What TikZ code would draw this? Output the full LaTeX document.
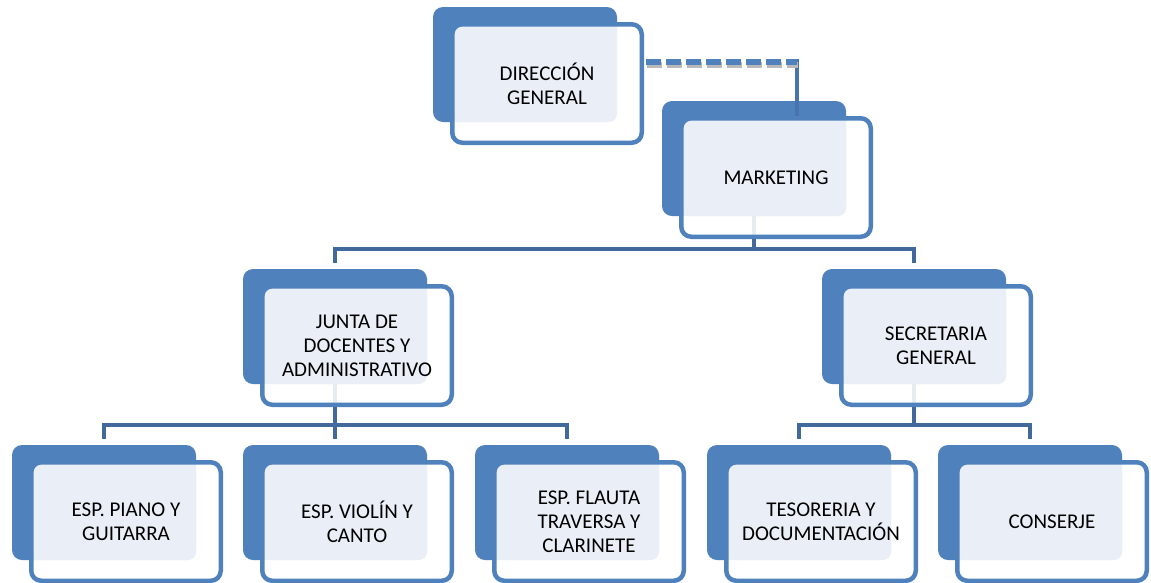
\documentclass[tikz,border=0pt]{standalone}
\usepackage{fontspec}
\setmainfont{Carlito}
\usetikzlibrary{calc}
\definecolor{boxblue}{HTML}{4F81BD}
\definecolor{lightfill}{HTML}{EAEFF7}
\definecolor{connblue}{HTML}{41699B}
\pgfdeclarelayer{backlayer}
\pgfdeclarelayer{connlayer}
\pgfsetlayers{backlayer,connlayer,main}
\tikzset{
  backbox/.style={fill=boxblue, rounded corners=10pt, minimum width=184pt, minimum height=115pt, inner sep=0pt, draw=none},
  frontbox/.style={draw=boxblue, line width=4.5pt, rounded corners=10pt, minimum width=189.5pt, minimum height=118.5pt, inner sep=0pt, align=center, font=\fontsize{21}{24}\selectfont, text=black},
  conn/.style={draw=connblue, line width=4.5pt, line join=miter},
  dashline/.style={draw=boxblue, line width=6pt, dash pattern=on 15pt off 5pt},
  dashshadow/.style={draw=gray!55, line width=6pt, dash pattern=on 15pt off 5pt},
  linkline/.style={draw=boxblue!90!black, line width=4pt}
}
\newcommand\orgbox[4]{%
  \begin{pgfonlayer}{backlayer}
    \node[backbox] (#1-b) at ({#2+92},{#3+57.5}) {};
  \end{pgfonlayer}
  \fill[white, fill opacity=0.88, rounded corners=8pt] ({#2+19},{#3+17}) rectangle ({#2+209},{#3+136});
  \fill[lightfill, rounded corners=8pt] ({#2+21},{#3+19}) rectangle ({#2+184},{#3+115});
  \node[frontbox] (#1) at ({#2+114},{#3+76.5}) {#4};
}
\begin{document}
\begin{tikzpicture}[x=1pt,y=-1pt]
\useasboundingbox (0,0) rectangle (1151,582);
\orgbox{dir}{433}{7}{DIRECCIÓN\\GENERAL}
\orgbox{mkt}{662}{101}{MARKETING}
\orgbox{junta}{243}{269}{JUNTA DE\\DOCENTES Y\\ADMINISTRATIVO}
\orgbox{secr}{822}{269}{SECRETARIA\\GENERAL}
\orgbox{p1}{12}{445}{ESP. PIANO Y\\GUITARRA}
\orgbox{p2}{243}{445}{ESP. VIOLÍN Y\\CANTO}
\orgbox{p3}{475}{445}{ESP. FLAUTA\\TRAVERSA Y\\CLARINETE}
\orgbox{s1}{707}{445}{TESORERIA Y\\DOCUMENTACIÓN}
\orgbox{s2}{938}{445}{CONSERJE}
\coordinate (hub1) at (754,249);
\coordinate (hub2) at (335,425);
\coordinate (hub3) at (914,425);
\coordinate (d1) at (797,62);
\begin{pgfonlayer}{connlayer}
  \draw[conn] (mkt-b.south) -- (hub1);
  \draw[conn] ($(junta-b.north)+(0,-6)$) -- (junta-b.north |- hub1) -- (secr-b.north |- hub1) -- ($(secr-b.north)+(0,-6)$);
  \draw[conn] (junta-b.south) -- (hub2);
  \draw[conn] ($(p1-b.north)+(0,-6)$) -- (p1-b.north |- hub2) -- (p3-b.north |- hub2) -- ($(p3-b.north)+(0,-6)$);
  \draw[conn] (hub2) -- ($(p2-b.north)+(0,-6)$);
  \draw[conn] (secr-b.south) -- (hub3);
  \draw[conn] ($(s1-b.north)+(0,-6)$) -- (s1-b.north |- hub3) -- (s2-b.north |- hub3) -- ($(s2-b.north)+(0,-6)$);
  \draw[linkline] ($(d1)+(0,-3)$) -- (d1 |- mkt.north);
\end{pgfonlayer}
\draw[dashshadow] ($(dir.east)+(3.25,-18.5)$) -- ($(d1)+(1,3)$);
\draw[dashline] ($(dir.east)+(2.25,-21.5)$) -- (d1);
\end{tikzpicture}
\end{document}
